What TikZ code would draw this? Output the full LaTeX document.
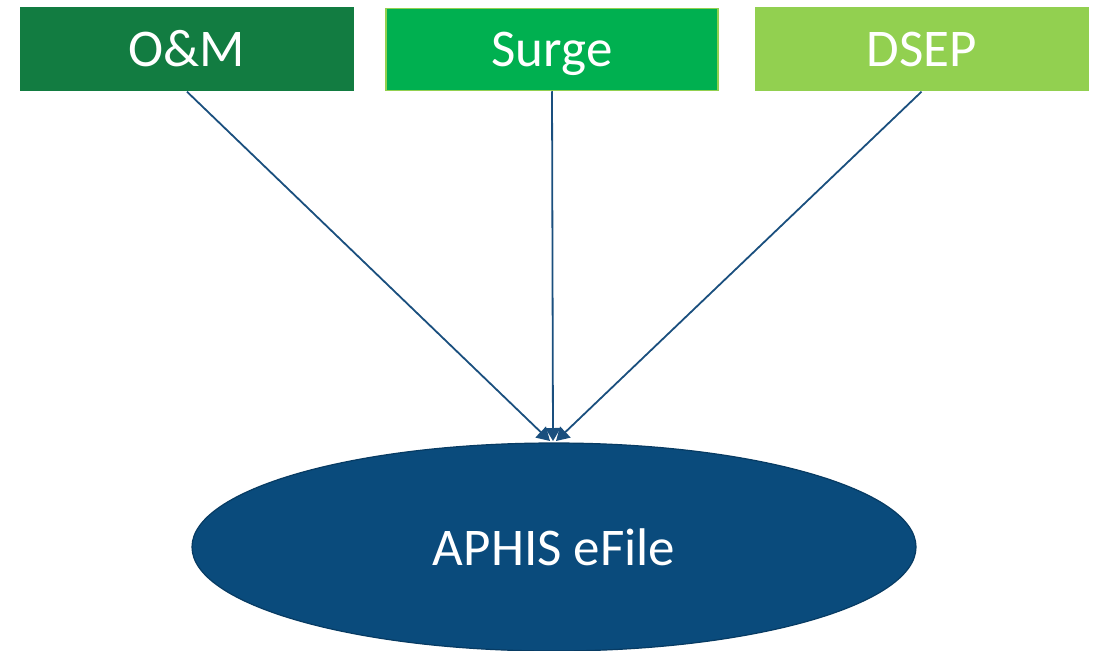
\documentclass[tikz,border=0pt]{standalone}
\usepackage{fontspec}
\setmainfont{Carlito}
\usetikzlibrary{arrows.meta,shapes.geometric}
\definecolor{omgreen}{HTML}{127C41}
\definecolor{surgegreen}{HTML}{00B050}
\definecolor{dsepgreen}{HTML}{92D050}
\definecolor{efblue}{HTML}{0A4B7C}
\definecolor{efborder}{HTML}{073B63}
\definecolor{linkblue}{HTML}{1A4F7E}
\tikzset{
  srcbox/.style={rectangle, minimum width=334pt, minimum height=84pt, inner sep=0pt,
    text height=36pt, text depth=1pt,
    text=white, font=\fontsize{53}{60}\selectfont},
  link/.style={draw=linkblue, line width=1.8pt, -{Triangle[length=13pt,width=15pt]}},
}
\begin{document}
\begin{tikzpicture}[x=1pt,y=-1pt]
\useasboundingbox (0,0) rectangle (1099,650);
\begin{scope}
\clip (0,0) rectangle (1099,650);
\node[ellipse, fill=efblue, draw=efborder, line width=1.2pt, minimum width=724pt, minimum height=208pt, inner sep=0pt,
  text=white, font=\fontsize{53}{60}\selectfont] (ef) at (554,547) {APHIS eFile};
\end{scope}
\node[srcbox, fill=omgreen] (om) at (187,49.5) {O\&M};
\node[srcbox, fill=surgegreen, draw=dsepgreen, line width=1.5pt, minimum width=332pt, minimum height=82pt] (surge) at (552,49.5) {Surge};
\node[srcbox, fill=dsepgreen] (dsep) at (921.5,49.5) {DSEP};
\coordinate (t1) at (550,441);
\coordinate (t2) at (553,441);
\coordinate (t3) at (556,441);
\draw[link] (om.south) -- (t1);
\draw[link] (surge.south) -- (t2);
\draw[link] (dsep.south) -- (t3);
\end{tikzpicture}
\end{document}
